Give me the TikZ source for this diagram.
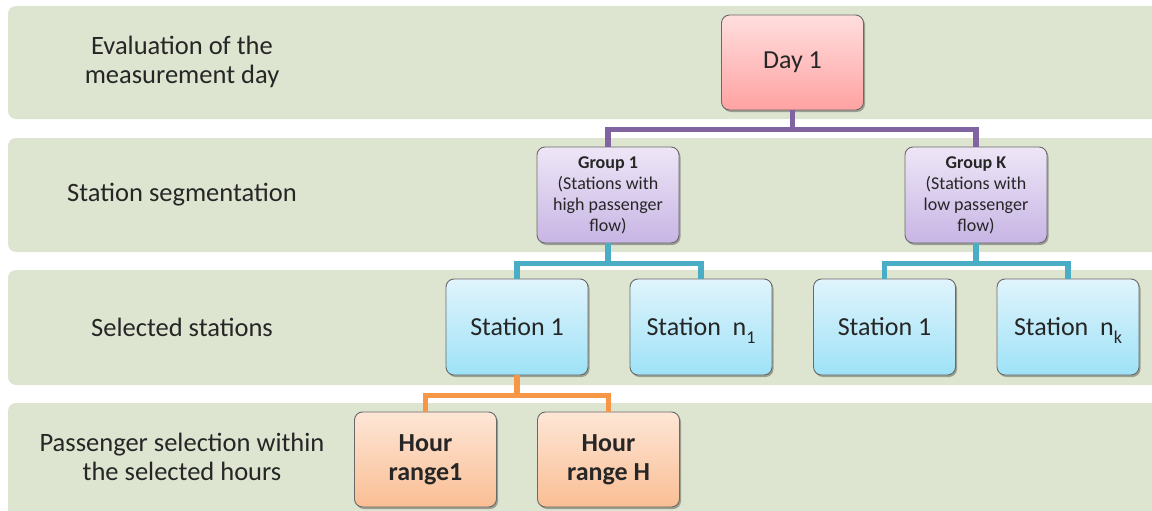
\documentclass[tikz,border=0pt]{standalone}
\usepackage{fontspec}
\setmainfont{Carlito}
\usetikzlibrary{shadows}
\definecolor{bandc}{RGB}{221,229,208}
\definecolor{textc}{RGB}{38,38,38}
\definecolor{edgec}{RGB}{105,105,105}
\definecolor{purplec}{RGB}{128,100,162}
\definecolor{bluec}{RGB}{75,172,198}
\definecolor{orangec}{RGB}{247,150,70}
\definecolor{daytop}{RGB}{255,222,222}
\definecolor{daybot}{RGB}{255,162,162}
\definecolor{grptop}{RGB}{238,230,247}
\definecolor{grpbot}{RGB}{199,181,228}
\definecolor{stntop}{RGB}{224,244,252}
\definecolor{stnbot}{RGB}{158,226,247}
\definecolor{hrtop}{RGB}{253,230,214}
\definecolor{hrbot}{RGB}{250,190,148}
\tikzset{
  band/.style={fill=bandc, draw=none, rounded corners=8pt},
  bandlabel/.style={text=textc, align=center, font=\fontsize{26.5}{29}\selectfont},
  boxbase/.style={draw=edgec, line width=0.9pt, rounded corners=8pt, minimum width=142pt,
    minimum height=95pt, inner sep=2pt, align=center, text=textc,
    drop shadow={shadow xshift=1.5pt, shadow yshift=-2pt, opacity=0.3, fill=black}},
  daybox/.style={boxbase, top color=daytop, bottom color=daybot, font=\fontsize{26}{29}\selectfont},
  grpbox/.style={boxbase, top color=grptop, bottom color=grpbot, minimum height=96pt, font=\fontsize{18}{21}\selectfont},
  stnbox/.style={boxbase, top color=stntop, bottom color=stnbot, minimum height=96pt, font=\fontsize{26}{29}\selectfont},
  hrbox/.style={boxbase, top color=hrtop, bottom color=hrbot, font=\bfseries\fontsize{26}{29}\selectfont},
  conn/.style={line width=5.5pt},
}
\newcommand{\lowsub}[1]{\raisebox{-0.3em}[0pt][0pt]{\fontsize{18}{18}\selectfont #1}}
\begin{document}
\begin{tikzpicture}[x=1pt, y=-1pt]
\useasboundingbox (0,0) rectangle (1152,511);
\clip (0,0) rectangle (1152,511);
% bands
\fill[band] (8,6) rectangle (1162,119);
\fill[band] (8,138) rectangle (1162,252);
\fill[band] (8,270) rectangle (1162,385);
\fill[band] (8,403) rectangle (1162,525);
% band labels
\node[bandlabel] (l1) at (182,62) {Evaluation of the\\measurement day};
\node[bandlabel] (l2) at (182,195) {Station segmentation};
\node[bandlabel] (l3) at (182,327) {Selected stations};
\node[bandlabel] (l4) at (182,457) {Passenger selection within\\the selected hours};
% nodes
\node[daybox] (day) at (792.5,62.5) {Day 1};
\node[grpbox] (g1) at (608,195) {\textbf{Group 1}\\(Stations with\\high passenger\\flow)};
\node[grpbox] (gk) at (976,195) {\textbf{Group K}\\(Stations with\\low passenger\\flow)};
\node[stnbox] (s1) at (517,327) {Station 1};
\node[stnbox] (sn1) at (701,327) {Station\ \ n\lowsub{1}};
\node[stnbox] (s1k) at (884.5,327) {Station 1};
\node[stnbox] (snk) at (1068,327) {Station\ \ n\lowsub{k}};
\node[hrbox] (h1) at (425.5,459.5) {Hour\\range1};
\node[hrbox] (hh) at (608.5,459.5) {Hour\\range H};
% connectors
\draw[conn, purplec] (day.south) -- ++(0,19) -| (g1.north);
\draw[conn, purplec] (day.south) -- ++(0,19) -| (gk.north);
\draw[conn, bluec] (g1.south) -- ++(0,20) -| (s1.north);
\draw[conn, bluec] (g1.south) -- ++(0,20) -| (sn1.north);
\draw[conn, bluec] (gk.south) -- ++(0,20) -| (s1k.north);
\draw[conn, bluec] (gk.south) -- ++(0,20) -| (snk.north);
\draw[conn, orangec] (s1.south) -- ++(0,20) -| (h1.north);
\draw[conn, orangec] (s1.south) -- ++(0,20) -| (hh.north);
\end{tikzpicture}
\end{document}
